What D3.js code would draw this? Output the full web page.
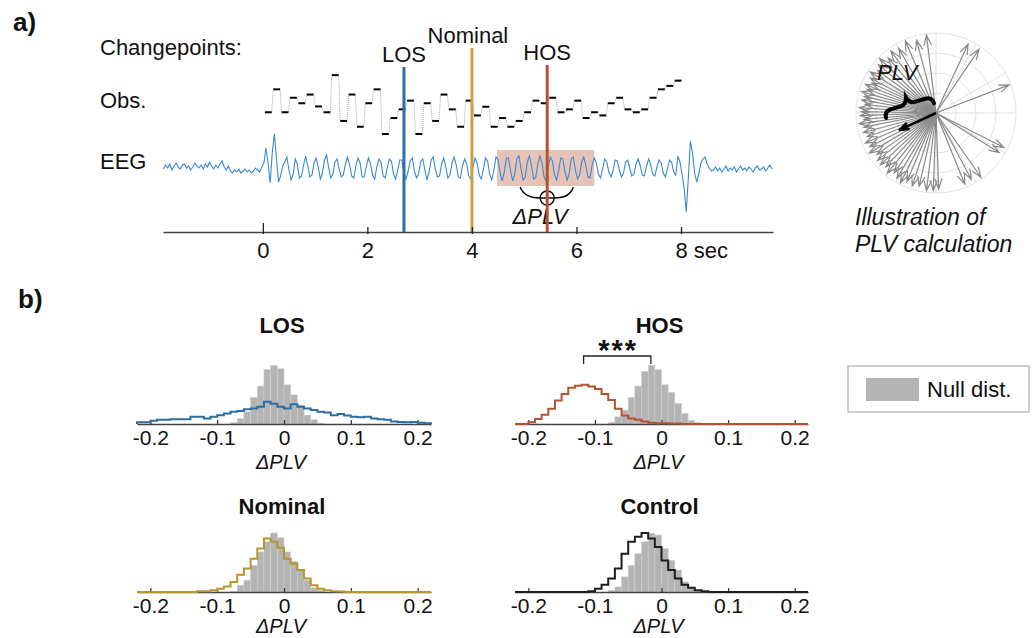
<!DOCTYPE html>
<html>
<head>
<meta charset="utf-8">
<script src="https://cdn.jsdelivr.net/npm/d3@7"></script>
<style>
  body { margin: 0; background: #fff; }
  svg { display: block; font-family: "Liberation Sans", Arial, Helvetica, sans-serif; }
</style>
</head>
<body>
<svg id="fig" width="1035" height="638"></svg>
<script>
// ---------- data : panel a ----------
var eegT0 = -1.9, eegDt = 0.04;           // seconds
var eegValues = [
  // -1.90 .. -0.02 s
  -1, 3, 0, 4, -2, 2, 5, 1, -1, 3, 4, 0, 2, -2, 1, 5, 2, 0, 3, -1, 4, 1, 6, 2, -1, 3, 0, 4, 7, 1,
  -2, 2, -3, -5, -2, -4, -1, -5, -3, -1, -4, -2, -5, -3, 0, -2, -4, 1,
  // 0.02 .. 0.38 s
  5, 20, 5, -15, 15, 34, 10, -14, -8, 2,
  // 0.42 .. 8.02 s
  6, 11, -2, -12, -6, 9, 4, -10, -8, 3,
  12, 2, -9, -7, 5, 10, 1, -11, -5, 8,
  13, 0, -10, -6, 6, 9, -1, -9, -7, 4,
  11, 3, -8, -10, 2, 10, 5, -9, -9, 2,
  10, 4, -7, -11, 1, 9, 6, -8, -10, 0,
  9, 7, -6, -11, -2, 8, 8, -5, -11, -3,
  7, 10, -3, -10, -6, 6, 9, -2, -12, -4,
  8, 11, -1, -9, -8, 4, 10, 1, -10, -7,
  5, 11, 3, -9, -10, 2, 9, 4, -8, -11,
  1, 10, 5, -7, -11, -1, 10, 7, -6, -12,
  -2, 11, 8, -5, -13, -4, 10, 10, -3, -13,
  -6, 9, 12, -1, -12, -9, 6, 12, 2, -11,
  -10, 4, 12, 5, -9, -13, 1, 11, 7, -7,
  -12, -2, 10, 9, -4, -12, -6, 9, 11, -2,
  -11, -7, 6, 11, 2, -9, -10, 3, 10, 5,
  -6, -10, -1, 9, 6, -4, -9, -3, 8, 7,
  -2, -9, -5, 6, 8, 0, -8, -6, 4, 9,
  2, -7, -8, 2, 9, 3, -6, -8, 1, 8,
  5, -5, -9, -1, 8, 6, -4, -7, 12, 6,
  -6,
  // 8.06 .. 8.58 s
  -20, -44, -10, 27, 15, -5, -14, -6, 5, 9, 11, 4, 0, -3,
  // 8.62 .. 9.74 s
  -2, 1, -3, 0, -4, -1, 2, -3, 0, -2, 1, -4, -1, 2, -2, 0, -3, 1, -1, -4,
  0, 2, -2, -1, 1, -3, 0, 3, -1
];

var obsT0 = 0.04, obsDt = 0.16, obsDur = 0.13;   // seconds
var obsLevels = [7.5, 15.4, 7.5, 12.5, 10.6, 13.6, 9.5, 7.5, 20.3, 4.5,
                 13.6, 2.5, 10.6, 15.4, 0, 5.5, 8.5, 11.5, 0, 10.6,
                 4.5, 13.6, 8.5, 2.5, 11.5, 6.4, 9.4, 2.5, 5.5, 2.5,
                 4.5, 7.5, 11.5, 10.6, 12.5, 7.5, 8.5, 11.5, 5.5, 7.5,
                 6.4, 10.6, 12.5, 8.5, 7.5, 8.5, 12.5, 15.4, 16.6, 18.4];

var changepointNames = ['LOS', 'Nominal', 'HOS'];
var changepointTimes = [2.7, 4.0, 5.44];
var timeTicks = [0, 2, 4, 6, 8];
var plvWindow = [4.48, 6.34];

// polar illustration (degrees, counter-clockwise from east; normalised length)
var phaseAngles = [21, 56, 65, 97, 105, 113, 120, 126, 131, 136, 140, 144, 148, 152, 155, 158, 161,
                   164, 167, 170, 173, 176, 179, 182, 185, 188, 191, 195, 199, 203, 207, 211, 215,
                   219, 223, 227, 231, 235, 239, 243, 247, 252, 257, 263, 268, 272, 292, 298, 305, 328, 333];
var phaseLengths = [1, 0.98, 0.97, 1, 0.96, 1, 0.95, 0.98, 0.93, 1,
                    0.96, 0.92, 0.99, 0.95, 0.9, 0.97, 0.93, 0.99, 0.94, 0.96,
                    0.91, 0.98, 0.95, 0.97, 0.92, 0.99, 0.94, 0.96, 0.93, 0.98,
                    0.95, 0.99, 0.92, 0.96, 0.97, 0.94, 0.99, 0.93, 0.97, 1,
                    0.95, 0.98, 0.96, 1, 0.99, 0.97, 0.98, 0.96, 1, 0.95, 0.97];
var plvAngle = 205, plvLength = 0.5;

// ---------- data : panel b (percent of trials per 0.01 bin) ----------
var binWidth = 0.01;
var histTicks = [-0.2, -0.1, 0, 0.1, 0.2];

var losNullStart = -0.08;
var losNull = [0.3, 1.3, 2.9, 6.3, 9.0, 12.9, 13.9, 13.1, 9.3, 6.9, 4.5, 2.1, 1.0, 0.2];
var losObsStart = -0.22;
var losObs = [0.4, 0.4, 0.8, 1.0, 1.0, 1.1, 1.1, 1.1, 1.7, 1.7, 1.3, 1.7, 2.1, 2.5, 2.9, 3.1, 3.5, 3.7,
              4.1, 5.3, 4.8, 4.1, 3.7, 4.7, 4.1, 3.7, 3.3, 2.9, 2.7, 2.1, 2.4, 2.0, 1.7, 1.6, 1.7, 1.3,
              1.1, 1.0, 0.6, 0.5, 0.4, 0.5, 0.3, 0.2];

var hosNullStart = -0.08;
var hosNull = [0.4, 1.7, 3.3, 6.3, 9.0, 12.5, 13.9, 12.9, 9.3, 7.5, 4.9, 2.5, 0.8, 0.3];
var hosObsStart = -0.22;
var hosObs = [0, 0, 0.4, 1.2, 2.2, 3.6, 5.6, 7.1, 8.6, 9.1, 9.3, 8.9, 8.3, 7.1, 5.7, 3.6, 2.0, 1.3,
              1.0, 0.6, 0.3, 0.2, 0.2, 0.1, 0.1];
var hosSignificance = {from: -0.117, to: -0.016, label: '***'};

var nominalNullStart = -0.08;
var nominalNull = [0.2, 1.6, 2.8, 6.3, 9.5, 11.9, 14.0, 12.9, 9.5, 7.3, 5.2, 2.8, 1.0, 0.4];
var nominalObsStart = -0.13;
var nominalObs = [0.2, 0.2, 0.4, 0.8, 1.3, 2.4, 4.1, 5.6, 7.9, 10.3, 12.7, 11.9, 10.5, 7.9, 6.7, 5.2,
                  3.2, 1.6, 0.8, 0.4, 0.2, 0.1];

var controlNullStart = -0.08;
var controlNull = [0.4, 1.2, 3.6, 6.3, 9.1, 11.9, 13.9, 13.5, 10.3, 7.5, 5.2, 2.4, 1.0, 0.3];
var controlObsStart = -0.11;
var controlObs = [0.2, 0.8, 1.7, 3.2, 5.6, 9.1, 11.9, 13.1, 14.0, 12.7, 10.7, 7.5, 5.2, 3.2, 1.7,
                  1.0, 0.4, 0.2];

// ---------- styles ----------
var cpColor = {LOS: '#2d6fa3', Nominal: '#c9a03e', HOS: '#b4532f'};
var nullFill = '#b4b4b4';

var svg = d3.select('#fig');
var txtColor = '#111';

svg.append('text').attr('x', 13).attr('y', 31).attr('font-size', 26).attr('font-weight', 'bold')
    .attr('fill', txtColor).text('a)');
svg.append('text').attr('x', 18).attr('y', 308).attr('font-size', 26).attr('font-weight', 'bold')
    .attr('fill', txtColor).text('b)');

// ================= panel a =================
var panelA = svg.append('g');
var tScale = d3.scaleLinear().domain([-1.91, 9.76]).range([163, 773]);
var obsY = d3.scaleLinear().domain([0, 20]).range([134, 76]);
var eegY = d3.scaleLinear().domain([-40, 40]).range([208, 128]);
var timeAxisY = 232;

[['Changepoints:', 55], ['Obs.', 108], ['EEG', 169]].forEach(function (r) {
    panelA.append('text').attr('x', 100).attr('y', r[1]).attr('font-size', 22).attr('fill', txtColor).text(r[0]);
});

// PLV window
panelA.append('rect')
    .attr('x', tScale(plvWindow[0])).attr('width', tScale(plvWindow[1]) - tScale(plvWindow[0]))
    .attr('y', 150).attr('height', 36)
    .attr('fill', cpColor.HOS).attr('fill-opacity', 0.35);

// EEG trace
var eegLine = d3.line()
    .x(function (d, i) { return tScale(eegT0 + i * eegDt); })
    .y(function (d) { return eegY(d); });
panelA.append('path').datum(eegValues).attr('d', eegLine)
    .attr('fill', 'none').attr('stroke', '#3a89d0').attr('stroke-width', 1.1);

// observations: dotted transitions + black dashes
var obsStart = function (i) { return obsT0 + i * obsDt; };
panelA.append('g').selectAll('line').data(d3.pairs(obsLevels)).join('line')
    .attr('x1', function (d, i) { return tScale(obsStart(i) + obsDur); })
    .attr('x2', function (d, i) { return tScale(obsStart(i + 1)); })
    .attr('y1', function (d) { return obsY(d[0]); })
    .attr('y2', function (d) { return obsY(d[1]); })
    .attr('stroke', '#a8a8a8').attr('stroke-width', 1).attr('stroke-dasharray', '1,1');
panelA.append('g').selectAll('line').data(obsLevels).join('line')
    .attr('x1', function (d, i) { return tScale(obsStart(i)); })
    .attr('x2', function (d, i) { return tScale(obsStart(i) + obsDur); })
    .attr('y1', function (d) { return obsY(d); })
    .attr('y2', function (d) { return obsY(d); })
    .attr('stroke', '#000').attr('stroke-width', 2);

// delta PLV bracket around HOS
var hosX = tScale(changepointTimes[2]);
panelA.append('path')
    .attr('d', 'M' + (hosX - 27) + ',187 Q' + (hosX - 23) + ',198 ' + (hosX - 7) + ',198' +
               ' M' + (hosX + 7) + ',198 Q' + (hosX + 23) + ',198 ' + (hosX + 26) + ',187')
    .attr('fill', 'none').attr('stroke', '#000').attr('stroke-width', 1.4);
panelA.append('circle').attr('cx', hosX).attr('cy', 198).attr('r', 7)
    .attr('fill', 'none').attr('stroke', '#000').attr('stroke-width', 1.4);
panelA.append('line').attr('x1', hosX - 7).attr('x2', hosX + 7).attr('y1', 198).attr('y2', 198)
    .attr('stroke', '#000').attr('stroke-width', 1.4);
panelA.append('text').attr('x', hosX - 7).attr('y', 224).attr('text-anchor', 'middle')
    .attr('font-size', 22).attr('font-style', 'italic').attr('fill', txtColor).text('\u0394PLV');

// changepoint lines
var cpLayout = {LOS: {top: 67, labelDx: 0}, Nominal: {top: 48, labelDx: -4}, HOS: {top: 65, labelDx: 0}};
changepointNames.forEach(function (name, i) {
    var x = tScale(changepointTimes[i]);
    panelA.append('line').attr('x1', x).attr('x2', x).attr('y1', cpLayout[name].top).attr('y2', timeAxisY)
        .attr('stroke', cpColor[name]).attr('stroke-width', 3);
    panelA.append('text').attr('x', x + cpLayout[name].labelDx).attr('y', cpLayout[name].top - 5)
        .attr('text-anchor', 'middle').attr('font-size', 22).attr('fill', txtColor).text(name);
});

// time axis
var tAxis = d3.axisBottom(tScale).tickValues(timeTicks).tickSizeInner(-6).tickSizeOuter(0).tickPadding(10)
    .tickFormat(function (d) { return d === 8 ? '8 sec' : d; });
var tg = panelA.append('g').attr('transform', 'translate(0,' + timeAxisY + ')').call(tAxis);
tg.attr('font-size', 22).attr('font-family', null).attr('color', txtColor);
tg.select('.domain').attr('stroke', '#444').attr('stroke-width', 1.3);
tg.selectAll('.tick line').attr('stroke', '#222').attr('stroke-width', 1.3).attr('y1', 2)
    .attr('y2', function (d) { return d === 0 ? -9 : -5; });
tg.selectAll('.tick text').filter(function (d) { return d === 8; })
    .attr('text-anchor', 'start').attr('x', -6);

// ================= polar illustration =================
var pol = svg.append('g').attr('transform', 'translate(936,113)');
var rScale = d3.scaleLinear().domain([0, 1]).range([0, 80]);
[0.25, 0.5, 0.75, 1].forEach(function (r) {
    pol.append('circle').attr('r', rScale(r)).attr('fill', 'none').attr('stroke', '#e2e2e2').attr('stroke-width', 1);
});
d3.range(0, 360, 30).forEach(function (a) {
    var rad = a * Math.PI / 180;
    pol.append('line').attr('x1', 0).attr('y1', 0)
        .attr('x2', rScale(1) * Math.cos(rad)).attr('y2', -rScale(1) * Math.sin(rad))
        .attr('stroke', '#e2e2e2').attr('stroke-width', 1);
});

function arrowPath(angleDeg, r, head) {
    var a = angleDeg * Math.PI / 180;
    var tx = r * Math.cos(a), ty = -r * Math.sin(a);
    var s = 20 * Math.PI / 180;
    var h1x = tx - head * Math.cos(a - s), h1y = ty + head * Math.sin(a - s);
    var h2x = tx - head * Math.cos(a + s), h2y = ty + head * Math.sin(a + s);
    return 'M0,0L' + tx + ',' + ty + 'M' + h1x + ',' + h1y + 'L' + tx + ',' + ty + 'L' + h2x + ',' + h2y;
}
pol.append('g').selectAll('path').data(phaseAngles).join('path')
    .attr('d', function (d, i) { return arrowPath(d, rScale(phaseLengths[i]) * 0.98, 11); })
    .attr('fill', 'none').attr('stroke', '#8a8a8a').attr('stroke-width', 1.2);
pol.append('path').attr('d', arrowPath(plvAngle, rScale(plvLength), 10))
    .attr('fill', 'none').attr('stroke', '#000').attr('stroke-width', 2.5).attr('stroke-linejoin', 'round');
// curly brace along the resultant vector
pol.append('path')
    .attr('d', 'M-25,7 Q-25,0 -18,0 L-7,0 Q-2,0 0,-7 Q2,0 7,0 L18,0 Q25,0 25,7')
    .attr('transform', 'translate(-28,-9) rotate(-17)')
    .attr('fill', 'none').attr('stroke', '#000').attr('stroke-width', 4).attr('stroke-linecap', 'round');
svg.append('text').attr('x', 877).attr('y', 80).attr('font-size', 22).attr('font-style', 'italic')
    .attr('fill', txtColor).text('PLV');
svg.append('text').attr('x', 855).attr('y', 225).attr('font-size', 23).attr('font-style', 'italic')
    .attr('fill', txtColor).text('Illustration of');
svg.append('text').attr('x', 855).attr('y', 252).attr('font-size', 23).attr('font-style', 'italic')
    .attr('fill', txtColor).text('PLV calculation');

// ================= panel b =================
var histDomain = [-0.22, 0.22];
var panels = [
    {title: 'LOS', nullStart: losNullStart, nullVals: losNull, obsStart: losObsStart, obsVals: losObs,
     color: cpColor.LOS, left: 137, right: 431, axisY: 424, titleY: 333, labelDy: 45},
    {title: 'HOS', nullStart: hosNullStart, nullVals: hosNull, obsStart: hosObsStart, obsVals: hosObs,
     color: cpColor.HOS, left: 515, right: 808, axisY: 424, titleY: 333, labelDy: 45, sig: hosSignificance},
    {title: 'Nominal', nullStart: nominalNullStart, nullVals: nominalNull, obsStart: nominalObsStart, obsVals: nominalObs,
     color: '#b8952e', left: 137, right: 431, axisY: 592, titleY: 514, labelDy: 41},
    {title: 'Control', nullStart: controlNullStart, nullVals: controlNull, obsStart: controlObsStart, obsVals: controlObs,
     color: '#1e1e1e', left: 515, right: 808, axisY: 592, titleY: 514, labelDy: 41}
];

panels.forEach(function (p) {
    var g = svg.append('g');
    var x = d3.scaleLinear().domain(histDomain).range([p.left, p.right]);
    var y = d3.scaleLinear().domain([0, 14]).range([p.axisY, p.axisY - 59]);
    var bw = x(binWidth) - x(0);

    g.append('g').selectAll('rect').data(p.nullVals).join('rect')
        .attr('x', function (d, i) { return x(p.nullStart + i * binWidth); })
        .attr('width', bw)
        .attr('y', function (d) { return y(d); })
        .attr('height', function (d) { return y(0) - y(d); })
        .attr('fill', nullFill).attr('stroke', '#cdcdcd').attr('stroke-width', 0.6);

    var axis = d3.axisBottom(x).tickValues(histTicks).tickSizeInner(-4).tickSizeOuter(0).tickPadding(6)
        .tickFormat(function (d) { return String(d); });
    var ag = g.append('g').attr('transform', 'translate(0,' + p.axisY + ')').call(axis);
    ag.attr('font-size', 21).attr('font-family', null).attr('color', txtColor);
    ag.select('.domain').attr('stroke', '#444').attr('stroke-width', 1.3);
    ag.selectAll('.tick line').attr('stroke', '#333').attr('stroke-width', 1.2).attr('y1', 1);

    var pts = [[histDomain[0], 0]];
    p.obsVals.forEach(function (v, i) { pts.push([p.obsStart + i * binWidth, v]); });
    pts.push([p.obsStart + p.obsVals.length * binWidth, 0]);
    pts.push([histDomain[1], 0]);
    var step = d3.line().curve(d3.curveStepAfter)
        .x(function (d) { return x(d[0]); }).y(function (d) { return y(d[1]); });
    g.append('path').datum(pts).attr('d', step)
        .attr('fill', 'none').attr('stroke', p.color).attr('stroke-width', 2);

    var cx = (p.left + p.right) / 2;
    g.append('text').attr('x', cx - 2).attr('y', p.titleY).attr('text-anchor', 'middle')
        .attr('font-size', 22).attr('font-weight', 'bold').attr('fill', txtColor).text(p.title);
    g.append('text').attr('x', cx - 3).attr('y', p.axisY + p.labelDy).attr('text-anchor', 'middle')
        .attr('font-size', 20).attr('font-style', 'italic').attr('fill', txtColor).text('\u0394PLV');

    if (p.sig) {
        var x1 = x(p.sig.from), x2 = x(p.sig.to), by = p.axisY - 68;
        g.append('path').attr('d', 'M' + x1 + ',' + (by + 8) + 'V' + by + 'H' + x2 + 'V' + (by + 8))
            .attr('fill', 'none').attr('stroke', '#222').attr('stroke-width', 1.3);
        g.append('text').attr('x', (x1 + x2) / 2 + 1).attr('y', by + 4).attr('text-anchor', 'middle')
            .attr('font-size', 29).attr('font-weight', 'bold').attr('letter-spacing', 2)
            .attr('fill', txtColor).text(p.sig.label);
    }
});

// legend
var lg = svg.append('g');
lg.append('rect').attr('x', 848).attr('y', 366).attr('width', 181).attr('height', 46)
    .attr('fill', '#fff').attr('stroke', '#a0a0a0').attr('stroke-width', 1);
lg.append('rect').attr('x', 866).attr('y', 378).attr('width', 53).attr('height', 23).attr('fill', nullFill);
lg.append('text').attr('x', 927).attr('y', 397).attr('font-size', 22).attr('fill', txtColor).text('Null dist.');
</script>
</body>
</html>
